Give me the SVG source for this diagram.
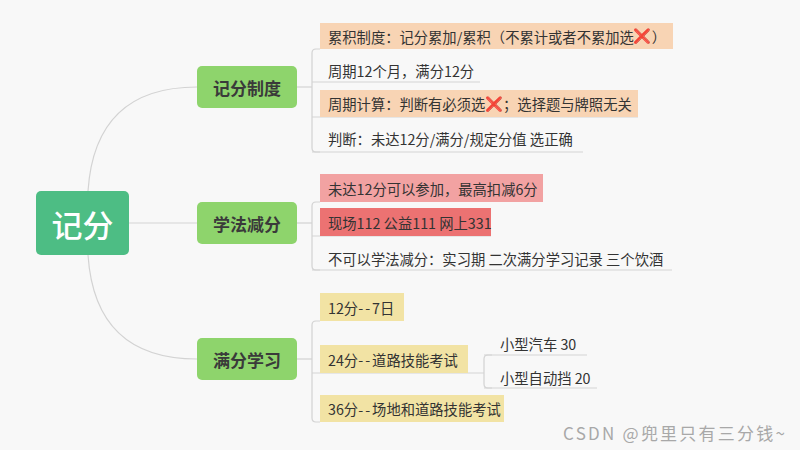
<svg xmlns="http://www.w3.org/2000/svg" width="800" height="450" viewBox="0 0 800 450">
<style>
text{font-family:"Noto Sans CJK SC","Noto Sans",sans-serif;fill:#333;dominant-baseline:central}
.root{font-size:31px;fill:#fff;font-weight:500}
.br{font-size:17px;font-weight:bold;fill:#3a3a3a}
.it{font-size:14.3px}
.d{letter-spacing:2px}
.ln{fill:none;stroke:#d3d3d3;stroke-width:1.2}
.x{fill:#e0161b;font-family:"Noto Color Emoji","DejaVu Sans",sans-serif}
.wm{font-size:17px;fill:#a8a8a8}
</style>
<rect width="800" height="450" fill="#f8f8f8"/>
<g id="connectors">
<path class="ln" d="M88 191 Q95 87 197 87"/>
<path class="ln" d="M129 223 H197"/>
<path class="ln" d="M88 255 Q95 359 197 359"/>
<path class="ln" d="M297 87 H312"/>
<path class="ln" d="M297 223 H312"/>
<path class="ln" d="M297 359 H312"/>
<path class="ln" d="M320 49 H316 Q312 49 312 53 V148 Q312 152 316 152 H320"/>
<path class="ln" d="M312 82 H480 M312 117 H638 M312 152 H583"/>
<path class="ln" d="M320 202 H316 Q312 202 312 206 V266 Q312 270 316 270 H320"/>
<path class="ln" d="M312 236 H491 M312 270 H672"/>
<path class="ln" d="M320 321 H316 Q312 321 312 325 V418 Q312 422 316 422 H320"/>
<path class="ln" d="M312 373 H484"/>
<path class="ln" d="M492 355 H488 Q484 355 484 359 V384 Q484 388 488 388 H492"/>
<path class="ln" d="M484 355 H587 M484 388 H597"/>
</g>
<g id="root">
<rect x="36" y="191" width="93" height="64" rx="5" fill="#4dbd84"/>
<text class="root" x="82.5" y="223" text-anchor="middle">记分</text>
</g>
<g id="b1">
<rect x="197" y="66" width="100" height="42" rx="5" fill="#8ed46c"/>
<text class="br" x="247" y="87" text-anchor="middle">记分制度</text>
</g>
<g id="b2">
<rect x="197" y="202" width="100" height="42" rx="5" fill="#8ed46c"/>
<text class="br" x="247" y="223" text-anchor="middle">学法减分</text>
</g>
<g id="b3">
<rect x="197" y="338" width="100" height="42" rx="5" fill="#8ed46c"/>
<text class="br" x="247" y="359" text-anchor="middle">满分学习</text>
</g>
<g id="c1">
<rect x="320" y="23" width="353" height="26" fill="#f8d4b4"/>
<text class="it" x="328" y="36">累积制度：记分累加/累积（不累计或者不累加选<tspan class="x">❌</tspan>）</text>
</g>
<g id="c2">
<text class="it" x="328" y="70">周期12个月，满分12分</text>
</g>
<g id="c3">
<rect x="320" y="90" width="318" height="27" fill="#f8d4b4"/>
<text class="it" x="328" y="103.5">周期计算：判断有必须选<tspan class="x">❌</tspan>；选择题与牌照无关</text>
</g>
<g id="c4">
<text class="it" x="328" y="138">判断：未达12分/满分/规定分值 选正确</text>
</g>
<g id="c5">
<rect x="320" y="174" width="223" height="28" fill="#f2a2a2"/>
<text class="it" x="328" y="188">未达12分可以参加，最高扣减6分</text>
</g>
<g id="c6">
<rect x="320" y="208" width="171" height="28" fill="#ec7272"/>
<text class="it" x="328" y="222">现场112 公益111 网上331</text>
</g>
<g id="c7">
<text class="it" x="328" y="258">不可以学法减分：实习期 二次满分学习记录 三个饮酒</text>
</g>
<g id="c8">
<rect x="320" y="293" width="84" height="28" fill="#f2e3a4"/>
<text class="it" x="328" y="307">12分<tspan class="d">--</tspan>7日</text>
</g>
<g id="c9">
<rect x="320" y="345" width="148" height="28" fill="#f2e3a4"/>
<text class="it" x="328" y="359">24分<tspan class="d">--</tspan>道路技能考试</text>
</g>
<g id="c10">
<rect x="320" y="395" width="184" height="27" fill="#f2e3a4"/>
<text class="it" x="328" y="408.5">36分<tspan class="d">--</tspan>场地和道路技能考试</text>
</g>
<g id="c11">
<text class="it" x="500" y="343">小型汽车 30</text>
</g>
<g id="c12">
<text class="it" x="500" y="377">小型自动挡 20</text>
</g>
<text class="wm" x="563" y="432" textLength="222" lengthAdjust="spacing">CSDN @兜里只有三分钱~</text>
</svg>
